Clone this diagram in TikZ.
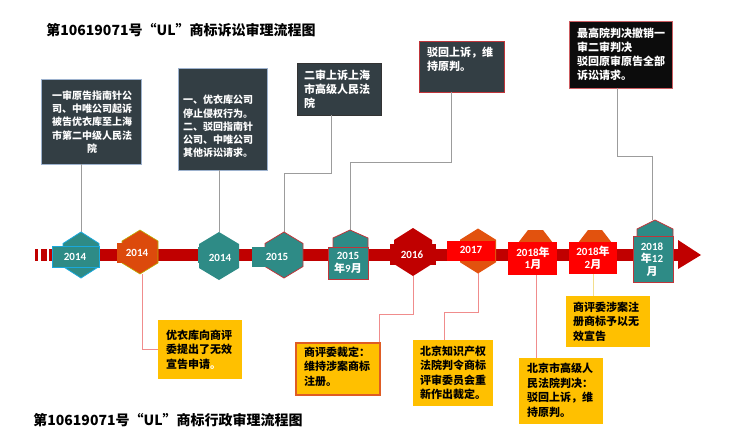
\documentclass[tikz,border=0pt]{standalone}
\usepackage{fontspec}
\setmainfont{Noto Sans CJK SC}
\newfontfamily\latn{Carlito}
\definecolor{boxdark}{HTML}{333E44}
\definecolor{boxblack}{HTML}{0C0C0C}
\definecolor{ygold}{HTML}{FFC000}
\definecolor{tealc}{HTML}{2E8B86}
\definecolor{cyanb}{HTML}{1AA8DC}
\definecolor{orng}{HTML}{DC4A0C}
\definecolor{orng2}{HTML}{E2520E}
\definecolor{dred}{HTML}{C00000}
\definecolor{bred}{HTML}{FF0000}
\definecolor{redb}{HTML}{C0353A}
\definecolor{conngray}{HTML}{9C9C9C}
\definecolor{connpink}{HTML}{F08C8C}
\definecolor{connyel}{HTML}{F3DE8C}
\definecolor{steelb}{HTML}{9DB2CE}
\newcommand\hexg[5]{\path[#1] ({#2},{#3-#5}) -- ({#2+#4},{#3-#5/2}) -- ({#2+#4},{#3+#5/2}) -- ({#2},{#3+#5}) -- ({#2-#4},{#3+#5/2}) -- ({#2-#4},{#3-#5/2}) -- cycle;}
\tikzset{
  darkbox/.style={fill=boxdark, draw=#1, line width=0.8pt, inner sep=0pt},
  ybox/.style={fill=ygold, inner sep=0pt},
  wtext/.style={text=white, font=\bfseries\fontsize{10}{13.3}\selectfont, inner sep=0pt, align=left},
  wtextb/.style={text=white, font=\bfseries\fontsize{11}{14}\selectfont, inner sep=0pt, align=left},
  btext/.style={text=black, font=\bfseries\fontsize{11}{14.5}\selectfont, inner sep=0pt, align=left},
  conn/.style={draw=conngray, line width=0.8pt},
  connr/.style={draw=connpink, line width=0.8pt},
  conny/.style={draw=connyel, line width=0.8pt},
  yr/.style={text=white, font=\bfseries\fontsize{11}{12.5}\selectfont, inner sep=0pt, align=center},
  ttl/.style={text=black, font=\bfseries\fontsize{14}{16}\selectfont, inner sep=0pt}
}
\begin{document}
\begin{tikzpicture}[x=1pt,y=-1pt]
\useasboundingbox (0,0) rectangle (738,445);
% titles
\node[ttl] (title1) at (181,30) {第10619071号“UL”商标诉讼审理流程图};
\node[ttl] (title2) at (168,420) {第10619071号“UL”商标行政审理流程图};
% timeline bar
\fill[dred] (35,249) rectangle (38.3,261);
\fill[dred] (40.7,249) rectangle (46.7,261);
\fill[dred] (49.3,249) rectangle (680,261);
\fill[dred] (678,240) -- (701,255) -- (678,269) -- cycle;
% connection points
\coordinate (tA) at (81,232);
\coordinate (tC) at (219,232);
\coordinate (tD) at (284,232);
\coordinate (tE) at (350,230);
\coordinate (tJ) at (652,220);
\coordinate (bB) at (142,274);
\coordinate (bF) at (413,276);
\coordinate (bG) at (478,273);
\coordinate (bH) at (536,275);
\coordinate (bI) at (593,274);
\coordinate (k3) at (331,173);
\coordinate (k4) at (451,162);
\coordinate (k5) at (617,156);
\coordinate (k7) at (379,314);
\coordinate (k8) at (444,312);
% upper boxes
\node[darkbox=steelb, minimum width=100pt, minimum height=85pt] (b1) at (91.5,121.5) {};
\node[darkbox=steelb, minimum width=89pt, minimum height=102pt] (b2) at (222.5,119) {};
\node[darkbox=black!80, minimum width=84pt, minimum height=52pt] (b3) at (339,89) {};
\node[darkbox=redb, minimum width=85pt, minimum height=51pt] (b4) at (461.5,66.5) {};
\node[fill=boxblack, draw=redb!80, line width=0.8pt, inner sep=0pt, minimum width=103pt, minimum height=67pt] (b5) at (620.5,54.5) {};
% lower boxes
\node[ybox, minimum width=84pt, minimum height=59pt] (b6) at (200,349.5) {};
\node[ybox, draw=orng!90, line width=1.2pt, minimum width=84pt, minimum height=52pt] (b7) at (338,369) {};
\node[ybox, minimum width=80pt, minimum height=66pt] (b8) at (453,373) {};
\node[ybox, minimum width=84pt, minimum height=66pt] (b9) at (561,391) {};
\node[ybox, minimum width=84pt, minimum height=51pt] (b10) at (608,321.5) {};
% connectors
\begin{scope}[on background layer/.try]
\end{scope}
\draw[conn] (b1.south -| tA) -- (tA);
\draw[conn] (b2.south -| tC) -- (tC);
\draw[conn] (k3 |- b3.south) -- (k3) -| (tD);
\draw[conn] (k4 |- b4.south) -- (k4) -| (tE);
\draw[conn] (k5 |- b5.south) -- (k5) -| (tJ);
\draw[connr] (bB) |- (b6.west);
\draw[connr] (bF) |- (k7) -- (k7 |- b7.north);
\draw[connr] (bG) |- (k8) -- (k8 |- b8.north);
\draw[connr] (bH) -- (bH |- b9.north);
\draw[conny] (bI) -- (bI |- b10.north);
% timeline nodes
\hexg{fill=tealc, draw=cyanb, line width=0.8pt}{81}{255}{18}{23}
\draw[fill=tealc, draw=cyanb, line width=0.8pt] (52,246) rectangle (99,267);
\hexg{fill=orng, draw=olive!60!yellow, line width=0.6pt}{140}{252}{18}{22}
\fill[orng] (117,243) rectangle (150,263);
\hexg{fill=tealc}{219}{256}{20}{24}
\fill[tealc] (198,247) rectangle (232,263);
\hexg{fill=tealc, draw=redb, line width=0.8pt}{284}{255}{19}{23}
\fill[tealc] (252,247) rectangle (290,267);
\draw[fill=tealc, draw=redb, line width=0.8pt] (333,248) -- (333,238) -- (350,230) -- (368,238) -- (368,248) -- cycle;
\draw[fill=tealc, draw=redb, line width=0.8pt] (328,247) rectangle (368,279);
\hexg{fill=dred}{413}{252}{19}{24}
\fill[dred] (390,244) rectangle (436,265);
\hexg{fill=orng2}{478}{251}{18}{22.5}
\fill[bred] (447,241) rectangle (495,261);
\fill[orng2] (518,243) -- (528,230) -- (543,230) -- (553,243) -- cycle;
\fill[bred] (508,242) rectangle (557,275);
\fill[orng2] (578,243) -- (588,230) -- (602,230) -- (612,243) -- cycle;
\fill[bred] (569,242) rectangle (617,274);
\draw[fill=tealc, draw=redb, line width=0.8pt] (637,237) -- (637,229) -- (655,220) -- (673,229) -- (673,237) -- cycle;
\draw[fill=tealc, draw=redb, line width=0.8pt] (633,236) rectangle (673,282);
% year labels
\node[yr] (yA) at (75,257) {\latn 2014};
\node[yr] (yB) at (137,253) {\latn 2014};
\node[yr] (yC) at (220,258) {\latn 2014};
\node[yr] (yD) at (277,257) {\latn 2015};
\node[yr] (yE) at (348,263) {{\latn 2015}\\年{\latn 9}月};
\node[yr] (yF) at (412,255) {\latn 2016};
\node[yr] (yG) at (471,250) {\latn 2017};
\node[yr] (yH) at (533,258.5) {{\latn 2018}年\\{\latn 1}月};
\node[yr] (yI) at (593,258) {{\latn 2018}年\\{\latn 2}月};
\node[yr] (yJ) at (652,259.5) {{\latn 2018}\\年{\latn 12}\\月};
% box texts
\node[wtext, align=center] (x1) at (92,122) {一审原告指南针公\\司、中唯公司起诉\\被告优衣库至上海\\市第二中级人民法\\院};
\node[wtext, anchor=west] (x2) at (183,126.5) {一、优衣库公司\\停止侵权行为。\\二、驳回指南针\\公司、中唯公司\\其他诉讼请求。};
\node[wtextb, anchor=west] (x3) at (304,89) {二审上诉上海\\市高级人民法\\院};
\node[wtextb, anchor=west] (x4) at (427,59) {驳回上诉，维\\持原判。};
\node[wtextb, anchor=west] (x5) at (577,54) {最高院判决撤销一\\审二审判决\\驳回原审原告全部\\诉讼请求。};
\node[btext, anchor=west] (x6) at (166,349.5) {优衣库向商评\\委提出了无效\\宣告申请\textcolor{white}{。}};
\node[btext, anchor=west] (x7) at (304,366.5) {商评委裁定：\\维持涉案商标\\注册。};
\node[btext, anchor=west] (x8) at (420,373) {北京知识产权\\法院判令商标\\评审委员会重\\新作出裁定。};
\node[btext, anchor=west] (x9) at (527,390.5) {北京市高级人\\民法院判决：\\驳回上诉，维\\持原判。};
\node[btext, anchor=west] (x10) at (573,321.5) {商评委涉案注\\册商标予以无\\效宣告};
\end{tikzpicture}
\end{document}
